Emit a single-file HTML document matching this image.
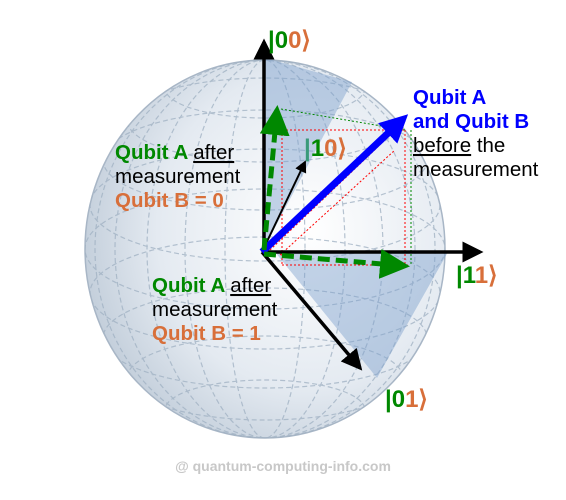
<!DOCTYPE html>
<html><head><meta charset="utf-8"><style>
html,body{margin:0;padding:0;background:#fff}
svg{display:block}
text{font-family:"Liberation Sans",sans-serif}
</style></head><body>
<svg width="566" height="500" viewBox="0 0 566 500">
<defs>
<radialGradient id="sg" cx="0.62" cy="0.45" r="0.7">
<stop offset="0" stop-color="#ffffff"/>
<stop offset="0.6" stop-color="#e4eaf1"/>
<stop offset="1" stop-color="#b9c6d4"/>
</radialGradient>
<clipPath id="cp"><ellipse cx="265" cy="249" rx="180" ry="189"/></clipPath>
<marker id="ak" markerWidth="6" markerHeight="6" refX="5" refY="3" orient="auto" markerUnits="strokeWidth"><path d="M0,0 L6,3 L0,6 z" fill="#000"/></marker>
<marker id="ab" markerWidth="4" markerHeight="4" refX="3" refY="2" orient="auto" markerUnits="strokeWidth"><path d="M0,0 L4,2 L0,4 z" fill="#00f"/></marker>
<marker id="ag" markerWidth="6" markerHeight="6" refX="5" refY="3" orient="auto" markerUnits="strokeWidth"><path d="M0,0 L6,3 L0,6 z" fill="#080"/></marker>
</defs>
<ellipse cx="265" cy="249" rx="180" ry="189" fill="url(#sg)" stroke="#a8b6c6" stroke-width="1.5"/>
<g clip-path="url(#cp)" stroke="#9fb0c2" stroke-width="1.2" stroke-dasharray="5,3" fill="none" opacity="0.75">
<ellipse cx="265" cy="249" rx="180" ry="60"/>
<ellipse cx="265" cy="205" rx="175" ry="56"/>
<ellipse cx="265" cy="160" rx="162" ry="50"/>
<ellipse cx="265" cy="120" rx="138" ry="42"/>
<ellipse cx="265" cy="88" rx="100" ry="30"/>
<ellipse cx="265" cy="293" rx="175" ry="56"/>
<ellipse cx="265" cy="338" rx="162" ry="50"/>
<ellipse cx="265" cy="378" rx="138" ry="42"/>
<ellipse cx="265" cy="410" rx="100" ry="30"/>
<ellipse cx="265" cy="249" rx="40" ry="189"/>
<ellipse cx="265" cy="249" rx="80" ry="189"/>
<ellipse cx="265" cy="249" rx="118" ry="189"/>
<ellipse cx="265" cy="249" rx="150" ry="189"/>
<ellipse cx="265" cy="249" rx="170" ry="189"/>
</g>
<polygon points="265,58 352,82 262,252" fill="#7d9fcc" opacity="0.45"/>
<polygon points="275,252 448,252 377,378" fill="#7d9fcc" opacity="0.45"/>
<g fill="none" stroke="#f00" stroke-width="1" stroke-dasharray="2,2">
<line x1="262" y1="130" x2="405" y2="130"/>
<line x1="405" y1="130" x2="405" y2="265"/>
<line x1="282" y1="130" x2="282" y2="265"/>
<line x1="282" y1="265" x2="410" y2="265"/>
<line x1="270" y1="250" x2="385" y2="140"/>
<line x1="280" y1="255" x2="395" y2="150"/>
</g>
<g fill="none" stroke="#080" stroke-width="1" stroke-dasharray="2,2">
<line x1="281" y1="109" x2="405" y2="130"/>
<line x1="411" y1="130" x2="411" y2="266"/>
</g>
<line x1="264" y1="252" x2="264" y2="42" stroke="#000" stroke-width="3.5" marker-end="url(#ak)"/>
<line x1="262" y1="252" x2="480" y2="252" stroke="#000" stroke-width="3.5" marker-end="url(#ak)"/>
<line x1="262" y1="252" x2="360" y2="368" stroke="#000" stroke-width="3.5" marker-end="url(#ak)"/>
<line x1="262" y1="252" x2="305" y2="162" stroke="#000" stroke-width="2" marker-end="url(#ak)"/>
<line x1="262" y1="252" x2="403" y2="119" stroke="#00f" stroke-width="7" marker-end="url(#ab)"/>
<line x1="264" y1="250" x2="277" y2="110" stroke="#080" stroke-width="5" stroke-dasharray="12,6" marker-end="url(#ag)"/>
<line x1="264" y1="254" x2="405" y2="266" stroke="#080" stroke-width="5" stroke-dasharray="12,6" marker-end="url(#ag)"/>
<g font-size="24" font-weight="bold">
<text x="268" y="48"><tspan fill="#080">|0</tspan><tspan fill="#d86f3a">0⟩</tspan></text>
<text x="304" y="156"><tspan fill="#3a9a7a">|</tspan><tspan fill="#080">1</tspan><tspan fill="#d86f3a">0⟩</tspan></text>
<text x="456" y="283"><tspan fill="#080">|1</tspan><tspan fill="#d86f3a">1⟩</tspan></text>
<text x="385" y="407"><tspan fill="#080">|0</tspan><tspan fill="#d86f3a">1⟩</tspan></text>
</g>
<g font-size="20.5">
<text x="413" y="104" fill="#00f" font-weight="bold">Qubit A</text>
<text x="413" y="128" fill="#00f" font-weight="bold">and Qubit B</text>
<text x="413" y="152" fill="#000"><tspan text-decoration="underline">before</tspan> the</text>
<text x="413" y="176" fill="#000">measurement</text>
<text x="115" y="159" fill="#080" font-weight="bold">Qubit A <tspan fill="#000" font-weight="normal" text-decoration="underline">after</tspan></text>
<text x="115" y="183" fill="#000">measurement</text>
<text x="115" y="207" fill="#d86f3a" font-weight="bold">Qubit B = 0</text>
<text x="152" y="292" fill="#080" font-weight="bold">Qubit A <tspan fill="#000" font-weight="normal" text-decoration="underline">after</tspan></text>
<text x="152" y="316" fill="#000">measurement</text>
<text x="152" y="340" fill="#d86f3a" font-weight="bold">Qubit B = 1</text>
</g>
<text x="283" y="471" text-anchor="middle" font-size="14" font-weight="bold" fill="#c8c8c8">@ quantum-computing-info.com</text>
</svg>
</body></html>
